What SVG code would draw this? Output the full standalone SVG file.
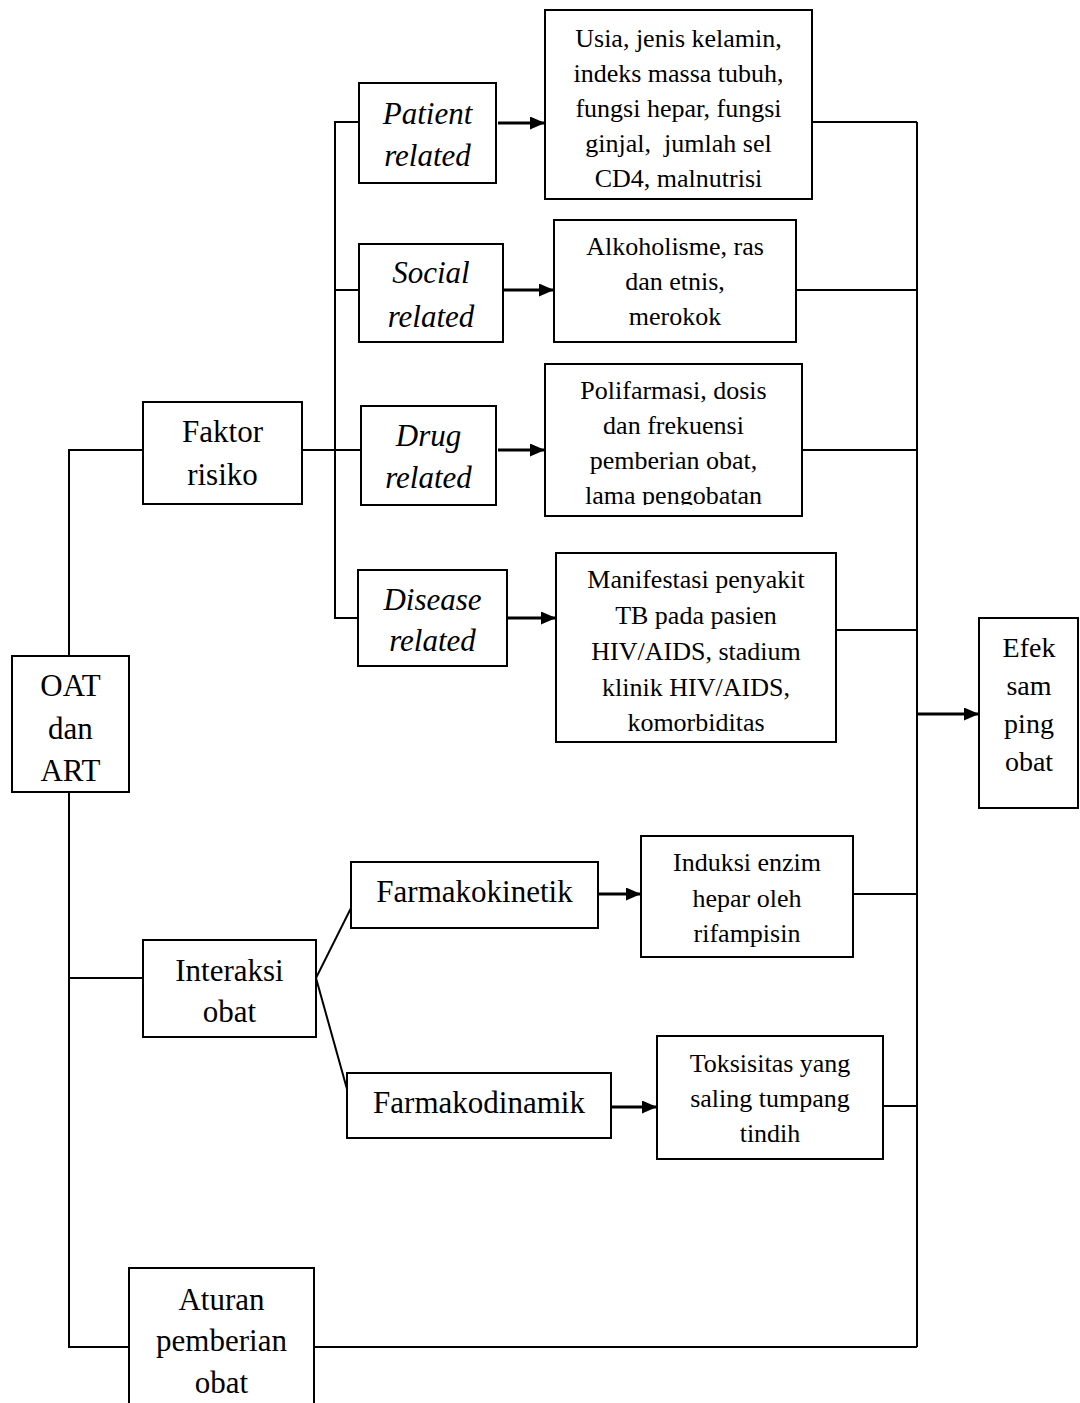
<svg xmlns="http://www.w3.org/2000/svg" width="1080" height="1403" viewBox="0 0 1080 1403">
<style>
.box{fill:#fff;stroke:#000;stroke-width:2}
.ln{fill:none;stroke:#000;stroke-width:2}
.ar{fill:none;stroke:#000;stroke-width:3;marker-end:url(#ah)}
text{font-family:"Liberation Serif","Times New Roman",serif;text-anchor:middle;fill:#000}
.s{font-size:26px;white-space:pre}
.b{font-size:31px}
.i{font-size:31px;font-style:italic}
.e{font-size:28px}
</style>
<defs>
<marker id="ah" markerUnits="userSpaceOnUse" markerWidth="15" markerHeight="13" refX="15" refY="6.5" orient="auto">
<path d="M0,0 L15,6.5 L0,13 z" fill="#000"/>
</marker>
<clipPath id="clipPoli"><rect x="545" y="364" width="257" height="141"/></clipPath>
</defs>
<rect width="1080" height="1403" fill="#fff"/>
<g id="connectors">
<path class="ln" d="M359,122 H335 V618 H358"/>
<path class="ln" d="M335,290 H359"/>
<path class="ln" d="M302,450 H361"/>
<path class="ln" d="M143,450 H69 V656"/>
<path class="ln" d="M69,792 V1347 H129"/>
<path class="ln" d="M69,978 H143"/>
<path class="ln" d="M316,978 L351,908"/>
<path class="ln" d="M316,978 L352,1107"/>
<path class="ln" d="M917,122 V1347"/>
<path class="ln" d="M812,122 H917"/>
<path class="ln" d="M796,290 H917"/>
<path class="ln" d="M802,450 H917"/>
<path class="ln" d="M836,630 H917"/>
<path class="ln" d="M853,894 H917"/>
<path class="ln" d="M883,1106 H917"/>
<path class="ln" d="M314,1347 H917"/>
<path class="ar" d="M498,123 H545"/>
<path class="ar" d="M503,290 H554"/>
<path class="ar" d="M498,450 H545"/>
<path class="ar" d="M507,618 H556"/>
<path class="ar" d="M596,894 H641"/>
<path class="ar" d="M612,1107 H657"/>
<path class="ar" d="M918,714 H979"/>
</g>
<g id="oat">
<rect class="box" x="12" y="656" width="117" height="136"/>
<text class="b" x="70.5" y="696">OAT</text>
<text class="b" x="70.5" y="739">dan</text>
<text class="b" x="70.5" y="781">ART</text>
</g>
<g id="faktor">
<rect class="box" x="143" y="402" width="159" height="102"/>
<text class="b" x="222.5" y="442">Faktor</text>
<text class="b" x="222.5" y="485">risiko</text>
</g>
<g id="patient">
<rect class="box" x="359" y="83" width="137" height="100"/>
<text class="i" x="427.5" y="124">Patient</text>
<text class="i" x="427.5" y="166">related</text>
</g>
<g id="social">
<rect class="box" x="359" y="244" width="144" height="98"/>
<text class="i" x="431" y="283">Social</text>
<text class="i" x="431" y="327">related</text>
</g>
<g id="drug">
<rect class="box" x="361" y="406" width="135" height="99"/>
<text class="i" x="428.5" y="446">Drug</text>
<text class="i" x="428.5" y="488">related</text>
</g>
<g id="disease">
<rect class="box" x="358" y="570" width="149" height="96"/>
<text class="i" x="432.5" y="610">Disease</text>
<text class="i" x="432.5" y="651">related</text>
</g>
<g id="usia">
<rect class="box" x="545" y="10" width="267" height="189"/>
<text class="s" x="678.5" y="47">Usia, jenis kelamin,</text>
<text class="s" x="678.5" y="82">indeks massa tubuh,</text>
<text class="s" x="678.5" y="117">fungsi hepar, fungsi</text>
<text class="s" x="678.5" y="152">ginjal,  jumlah sel</text>
<text class="s" x="678.5" y="187">CD4, malnutrisi</text>
</g>
<g id="alkoholisme">
<rect class="box" x="554" y="220" width="242" height="122"/>
<text class="s" x="675" y="255">Alkoholisme, ras</text>
<text class="s" x="675" y="290">dan etnis,</text>
<text class="s" x="675" y="325">merokok</text>
</g>
<g id="polifarmasi">
<rect class="box" x="545" y="364" width="257" height="152"/>
<g clip-path="url(#clipPoli)">
<text class="s" x="673.5" y="399">Polifarmasi, dosis</text>
<text class="s" x="673.5" y="434">dan frekuensi</text>
<text class="s" x="673.5" y="469">pemberian obat,</text>
<text class="s" x="673.5" y="504">lama pengobatan</text>
</g>
</g>
<g id="manifestasi">
<rect class="box" x="556" y="553" width="280" height="189"/>
<text class="s" x="696" y="588">Manifestasi penyakit</text>
<text class="s" x="696" y="624">TB pada pasien</text>
<text class="s" x="696" y="660">HIV/AIDS, stadium</text>
<text class="s" x="696" y="696">klinik HIV/AIDS,</text>
<text class="s" x="696" y="731">komorbiditas</text>
</g>
<g id="efek">
<rect class="box" x="979" y="618" width="99" height="190"/>
<text class="e" x="1029" y="657">Efek</text>
<text class="e" x="1029" y="695">sam</text>
<text class="e" x="1029" y="733">ping</text>
<text class="e" x="1029" y="771">obat</text>
</g>
<g id="interaksi">
<rect class="box" x="143" y="940" width="173" height="97"/>
<text class="b" x="229.5" y="981">Interaksi</text>
<text class="b" x="229.5" y="1022">obat</text>
</g>
<g id="farmakokinetik">
<rect class="box" x="351" y="862" width="247" height="66"/>
<text class="b" x="474.5" y="902">Farmakokinetik</text>
</g>
<g id="farmakodinamik">
<rect class="box" x="347" y="1073" width="264" height="65"/>
<text class="b" x="479" y="1113">Farmakodinamik</text>
</g>
<g id="induksi">
<rect class="box" x="641" y="836" width="212" height="121"/>
<text class="s" x="747" y="871">Induksi enzim</text>
<text class="s" x="747" y="907">hepar oleh</text>
<text class="s" x="747" y="942">rifampisin</text>
</g>
<g id="toksisitas">
<rect class="box" x="657" y="1036" width="226" height="123"/>
<text class="s" x="770" y="1072">Toksisitas yang</text>
<text class="s" x="770" y="1107">saling tumpang</text>
<text class="s" x="770" y="1142">tindih</text>
</g>
<g id="aturan">
<rect class="box" x="129" y="1268" width="185" height="160"/>
<text class="b" x="221.5" y="1310">Aturan</text>
<text class="b" x="221.5" y="1351">pemberian</text>
<text class="b" x="221.5" y="1393">obat</text>
</g>
</svg>
